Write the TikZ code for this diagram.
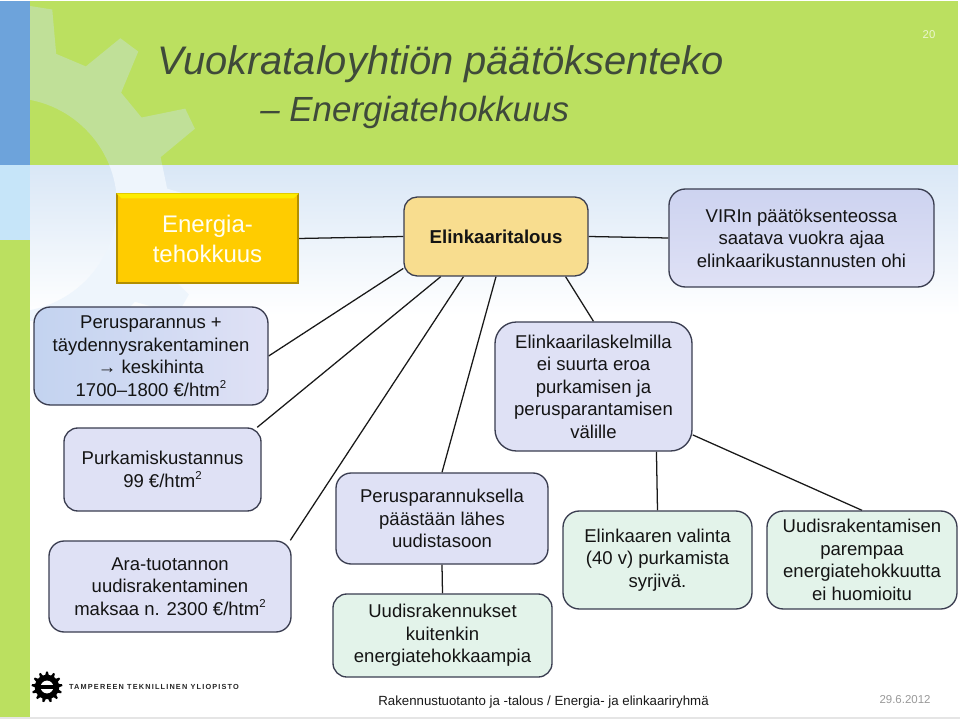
\documentclass[tikz,border=0pt]{standalone}
\usepackage{fontspec}
\usetikzlibrary{calc}
\setmainfont{Liberation Sans}
\newfontfamily\logofont[LetterSpace=16]{Liberation Sans}
\pgfdeclarelayer{bgl}
\pgfdeclarelayer{conn}
\pgfsetlayers{bgl,conn,main}
\definecolor{hdrgreen}{HTML}{BBE060}
\definecolor{gearhdr}{HTML}{C0E098}
\definecolor{gearbody}{HTML}{EEF5FC}
\definecolor{stripblue}{HTML}{6DA3DB}
\definecolor{stripsky}{HTML}{C6E5F9}
\definecolor{bodytop}{HTML}{D9E7F6}
\definecolor{boxline}{HTML}{3A3D50}
\definecolor{lilac}{HTML}{DFE1F5}
\definecolor{lilacdark}{HTML}{CDD3F0}
\definecolor{perusleft}{HTML}{C3D3F0}
\definecolor{mint}{HTML}{E3F3EA}
\definecolor{sand}{HTML}{F8DD8F}
\definecolor{amber}{HTML}{FFCC00}
\definecolor{titlegrey}{HTML}{3F4A3A}
\tikzset{
  x=0.75pt,y=-0.75pt,
  box/.style 2 args={draw=boxline,line width=1pt,align=center,inner sep=0pt,
    minimum width=#1*0.75pt,minimum height=#2*0.75pt,rounded corners=#2*0.125pt,
    font=\fontsize{13.9}{16.9}\selectfont,text=black!92},
  lilacbox/.style={fill=lilac},
  mintbox/.style={fill=mint},
  link/.style={draw=black!90,line width=0.95pt},
}
\newcommand{\gearpath}[2]{%
  (#1-8:#2) \foreach \a in {0,27.692,...,340} {
    -- ({#1+\a-8}:158) -- ({#1+\a-3.2}:200) -- ({#1+\a+3.2}:200) -- ({#1+\a+8}:158) } -- cycle}
\newcommand{\sqm}{\raisebox{0.42em}{\fontsize{8.6}{9}\selectfont 2}}
\begin{document}
\begin{tikzpicture}
\useasboundingbox (0,0) rectangle (960,720);
\begin{pgfonlayer}{bgl}
  \fill[white] (0,0) rectangle (960,720);
  \shade[top color=bodytop,bottom color=white] (30,165) rectangle (958,315);
  \begin{scope}
    \clip (30,165) rectangle (958,320);
    \fill[gearbody,even odd rule,shift={(10,205)}] \gearpath{-81}{158} (0,0) circle (107);
  \end{scope}
  \fill[hdrgreen] (30,1) rectangle (958,165);
  \begin{scope}
    \clip (30,1) rectangle (958,165);
    \fill[gearhdr,even odd rule,shift={(10,205)}] \gearpath{-81}{158} (0,0) circle (107);
  \end{scope}
  \fill[stripblue] (0,1) rectangle (30,165);
  \fill[stripsky] (0,165) rectangle (30,240);
  \fill[hdrgreen] (0,240) rectangle (30,717);
  \fill[black!10] (0,717) rectangle (960,719);
  % university logo
  \begin{scope}[shift={(47,687)},scale=0.077]
    \fill[black,even odd rule] \gearpath{-90}{158} (0,0) circle (85);
    \fill[black] (-150,-24) rectangle (150,24);
  \end{scope}
\end{pgfonlayer}

\node[anchor=west,inner sep=0pt,text=titlegrey,font=\fontsize{29.9}{32}\selectfont\itshape] (title) at (157,64.5) {Vuokrataloyhtiön päätöksenteko};
\node[anchor=west,inner sep=0pt,text=titlegrey,font=\fontsize{26.2}{28}\selectfont\itshape] (subtitle) at (260,112) {– Energiatehokkuus};
\node[inner sep=0pt,text=white!70!hdrgreen,font=\fontsize{8.5}{10}\selectfont] (pagenum) at (929,35) {20};

\node[draw=amber!70!black,line width=1pt,fill=amber,inner sep=0pt,minimum width=135.75pt,minimum height=66.75pt,align=center,text=white!95!yellow,font=\fontsize{18}{22.2}\selectfont] (energia) at (207.5,238.5) {\rule{0pt}{14pt}Energia-\\tehokkuus};
\fill[yellow!85!amber] (energia.north west) -- (energia.north east) -- ++(-5,5) -- ($(energia.north west)+(5,5)$) -- cycle;

\node[box={184}{79},fill=sand,font=\fontsize{14}{16.9}\selectfont\bfseries] (elink) at (496,236.5) {Elinkaaritalous};
\node[box={265}{98},top color=lilacdark,bottom color=lilac] (virin) at (801.5,238) {VIRIn päätöksenteossa\\saatava vuokra ajaa\\elinkaarikustannusten ohi};

\node[box={234}{98},left color=perusleft,right color=lilac] (perus) at (151,356) {Perusparannus +\\täydennysrakentaminen\\→ keskihinta\\1700–1800 €/htm\sqm};
\node[box={197}{83},lilacbox] (purku) at (162.5,469.5) {Purkamiskustannus\\99 €/htm\sqm};
\node[box={242}{91},lilacbox] (ara) at (170,586.5) {Ara-tuotannon\\uudisrakentaminen\\maksaa n. 2300 €/htm\sqm};
\node[box={212}{91},lilacbox] (perusp) at (442,518.5) {Perusparannuksella\\päästään lähes\\uudistasoon};
\node[box={219}{83},mintbox] (uudisr) at (442.5,635.5) {Uudisrakennukset\\kuitenkin\\energiatehokkaampia};
\node[box={197}{129},lilacbox] (laske) at (593.5,386.5) {Elinkaarilaskelmilla\\ei suurta eroa\\purkamisen ja\\perusparantamisen\\välille};
\node[box={189}{98},mintbox] (valinta) at (657.5,560) {Elinkaaren valinta\\(40 v) purkamista\\syrjivä.};
\node[box={190}{98},mintbox] (uudist) at (862,560) {Uudisrakentamisen\\parempaa\\energiatehokkuutta\\ei huomioitu};

\begin{pgfonlayer}{conn}
  \draw[link] (energia.east) -- (elink.west);
  \draw[link] (elink.east) -- (virin.west);
  \draw[link] (elink.199.5) -- (perus.east);
  \draw[link] (elink.216.2) -- (purku.24.6);
  \draw[link] (elink.231.9) -- (ara.21.9);
  \draw[link] (elink.south) -- (perusp.north);
  \draw[link] (elink.-30.5) -- (laske.north);
  \draw[link] (perusp.south) -- (uudisr.north);
  \draw[link] (laske.-46.8) -- (valinta.north);
  \draw[link] (laske.-26.7) -- (uudist.north);
\end{pgfonlayer}

\node[inner sep=0pt,font=\logofont\bfseries\fontsize{5.5}{7}\selectfont,text=black!85] (logotext) at (154,687) {TAMPEREEN TEKNILLINEN YLIOPISTO};
\node[inner sep=0pt,font=\fontsize{9.95}{12}\selectfont,text=black!90] (footer) at (543.5,702) {Rakennustuotanto ja -talous / Energia- ja elinkaariryhmä};
\node[inner sep=0pt,font=\fontsize{8.6}{10}\selectfont,text=black!40] (date) at (905,699.5) {29.6.2012};
\end{tikzpicture}
\end{document}
